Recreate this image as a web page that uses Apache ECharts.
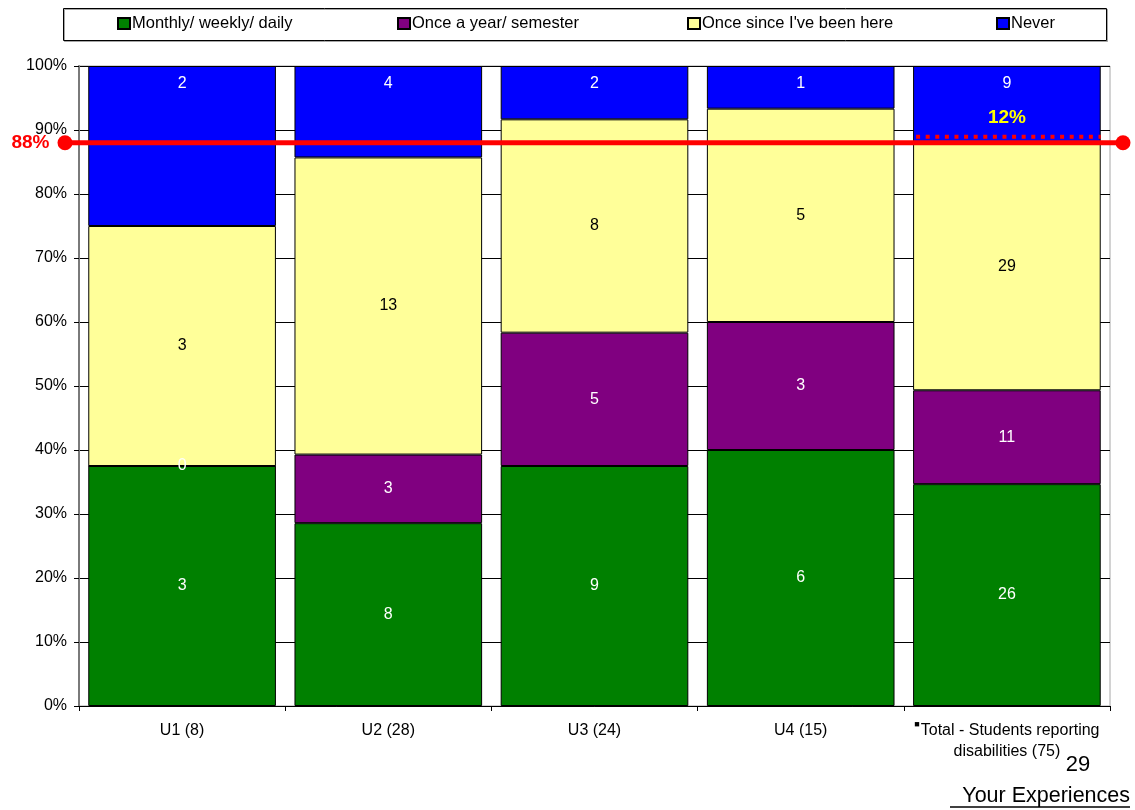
<!DOCTYPE html>
<html>
<head>
<meta charset="utf-8">
<script src="https://cdn.jsdelivr.net/npm/echarts@6/dist/echarts.min.js"></script>
<style>
  html, body { margin: 0; padding: 0; background: #fff; }
  #chart { width: 1135px; height: 810px; }
</style>
</head>
<body>
<div id="chart"></div>
<script>
// Survey responses by unit (counts of students)
const categories = ['U1 (8)', 'U2 (28)', 'U3 (24)', 'U4 (15)', 'Total - Students reporting\ndisabilities (75)'];
const seriesNames = ['Monthly/ weekly/ daily', 'Once a year/ semester', "Once since I've been here", 'Never'];
const monthly = [3, 8, 9, 6, 26];
const yearly = [0, 3, 5, 3, 11];
const onceHere = [3, 13, 8, 5, 29];
const never = [2, 4, 2, 1, 9];
const threshold = 88;          // share answering at least once (%)
const thresholdLabel = '88%';
const remainderLabel = '12%';

const FONT = 'Liberation Sans, Arial, sans-serif';
const counts = [monthly, yearly, onceHere, never];
const totals = categories.map((_, i) => counts.reduce((s, arr) => s + arr[i], 0));
const pct = arr => arr.map((v, i) => v / totals[i] * 100);

const colors = ['#008000', '#800080', '#FFFF99', '#0000FF'];
const labelColors = ['#ffffff', '#ffffff', '#000000', '#ffffff'];
const GAP = 0.09;

const barSeries = counts.map((arr, k) => ({
  name: seriesNames[k],
  type: 'bar',
  stack: 'all',
  barCategoryGap: (GAP * 100) + '%',
  data: pct(arr),
  itemStyle: { color: colors[k], borderColor: '#000', borderWidth: 1 },
  label: {
    show: true,
    position: k === 3 ? 'insideTop' : 'inside',
    distance: 10,
    color: labelColors[k],
    fontFamily: FONT,
    fontSize: 16,
    formatter: p => String(arr[p.dataIndex])
  },
  z: 2
}));

const chart = echarts.init(document.getElementById('chart'));

const legendLefts = [117, 397, 687, 996];

chart.setOption({
  animation: false,
  textStyle: { fontFamily: FONT },
  legend: seriesNames.map((n, k) => ({
    data: [n],
    left: legendLefts[k],
    top: 15,
    padding: 0,
    icon: 'rect',
    itemWidth: 12,
    itemHeight: 11,
    itemGap: 0,
    textStyle: { fontFamily: FONT, fontSize: 16.5, color: '#000', padding: [3, 0, 0, -3] }
  })),
  grid: [
    { left: 79, right: 25, top: 66, bottom: 104, show: true, borderColor: '#a6a6a6', borderWidth: 1 },
    { left: 65, right: 12, top: 66, bottom: 104 }
  ],
  xAxis: [
    {
      type: 'category',
      gridIndex: 0,
      data: categories,
      axisLine: { lineStyle: { color: '#000', width: 1 } },
      axisTick: { show: true, length: 5, lineStyle: { color: '#000' } },
      axisLabel: {
        interval: 0,
        margin: 14,
        color: '#000',
        fontFamily: FONT,
        fontSize: 16,
        lineHeight: 21,
        formatter: v => v.startsWith('Total') ? '{sq|■}' + v : v,
        rich: {
          sq: { fontSize: 9, verticalAlign: 'top', lineHeight: 21, color: '#000', padding: [0, 1, 8, 0] }
        }
      }
    },
    { type: 'value', gridIndex: 1, min: 0, max: 1, show: false }
  ],
  yAxis: [
    {
      type: 'value',
      gridIndex: 0,
      min: 0,
      max: 100,
      interval: 10,
      axisLine: { show: true, lineStyle: { color: '#7a7a7a', width: 2 } },
      axisTick: { show: true, length: 5, lineStyle: { color: '#000' } },
      axisLabel: { formatter: '{value}%', margin: 12, color: '#000', fontFamily: FONT, fontSize: 16 },
      splitLine: { show: true, lineStyle: { color: '#000', width: 1 } }
    },
    { type: 'value', gridIndex: 1, min: 0, max: 100, show: false }
  ],
  series: [
    ...barSeries,
    {
      // dotted marker across the total bar, with the remaining share above it
      type: 'custom',
      xAxisIndex: 0,
      yAxisIndex: 0,
      z: 5,
      data: [[categories.length - 1, threshold]],
      renderItem: (params, api) => {
        const c = api.coord([api.value(0), api.value(1)]);
        const band = api.size([1, 0])[0];
        const bw = band * (1 - GAP);
        const y = c[1] - 6;
        return {
          type: 'group',
          children: [
            {
              type: 'line',
              shape: { x1: c[0] - bw / 2 + 3, y1: y, x2: c[0] + bw / 2, y2: y },
              style: { stroke: '#ff0000', lineWidth: 4, lineDash: [4, 5.6], lineCap: 'butt' }
            },
            {
              type: 'text',
              style: {
                text: remainderLabel, x: c[0], y: y - 19,
                align: 'center', verticalAlign: 'middle',
                fill: '#ffff00', font: 'bold 19px ' + FONT
              }
            }
          ]
        };
      }
    },
    {
      // threshold line spanning the full chart width
      type: 'line',
      xAxisIndex: 1,
      yAxisIndex: 1,
      z: 10,
      data: [
        { value: [0, threshold], label: { show: true } },
        { value: [1, threshold], label: { show: false } }
      ],
      symbol: 'circle',
      symbolSize: 15,
      lineStyle: { color: '#ff0000', width: 5 },
      itemStyle: { color: '#ff0000' },
      label: {
        show: false,
        position: 'left',
        distance: 8,
        formatter: thresholdLabel,
        color: '#ff0000',
        fontFamily: FONT,
        fontSize: 19,
        fontWeight: 'bold'
      }
    }
  ],
  graphic: [
    {
      type: 'rect',
      shape: { x: 63.5, y: 8.5, width: 1043, height: 32 },
      style: { fill: 'none', stroke: '#000', lineWidth: 1, shadowColor: 'rgba(0,0,0,0.35)', shadowOffsetX: 1, shadowOffsetY: 1 },
      z: -1
    },
    {
      type: 'text',
      x: 1078, y: 765,
      style: { text: '29', align: 'center', verticalAlign: 'middle', font: '22px ' + FONT, fill: '#000' }
    },
    {
      type: 'text',
      x: 1130, y: 796,
      style: { text: 'Your Experiences', align: 'right', verticalAlign: 'middle', font: '21.5px ' + FONT, fill: '#000' }
    },
    {
      type: 'line',
      shape: { x1: 950, y1: 807, x2: 1130, y2: 807 },
      style: { stroke: '#000', lineWidth: 1.5 }
    }
  ]
});
</script>
</body>
</html>
